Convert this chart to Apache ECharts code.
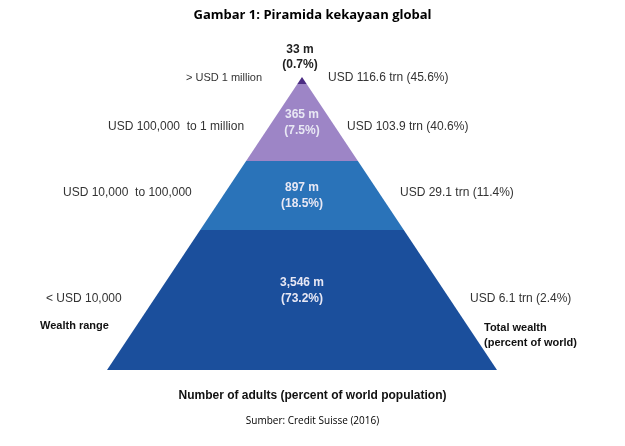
<!DOCTYPE html><html><head><meta charset="utf-8"><script src="https://cdn.jsdelivr.net/npm/echarts@6/dist/echarts.min.js"></script>
<style>html,body{margin:0;background:#fff}#c{width:625px;height:446px}</style></head><body><div id="c"></div><script>
const levels=['< USD 10,000','USD 10,000  to 100,000','USD 100,000  to 1 million','> USD 1 million'];
const adults=['3,546 m','897 m','365 m','33 m'];
const adultPct=['(73.2%)','(18.5%)','(7.5%)','(0.7%)'];
const wealth=['USD 6.1 trn (2.4%)','USD 29.1 trn (11.4%)','USD 103.9 trn (40.6%)','USD 116.6 trn (45.6%)'];
const bounds=[0,140,209,286,293];
const colors=['#1b4f9c','#2a73b9','#9d85c6','#4b2c83'];
const TOP=293,HALF=195;
const hw=h=>HALF*(TOP-h)/TOP;
const data=levels.map((l,i)=>[i,bounds[i],bounds[i+1]]);
const chart=echarts.init(document.getElementById('c'));
const F='Liberation Sans, Arial, sans-serif';
const T=(x,y,t,o={})=>({type:'text',left:x,top:y,style:Object.assign({text:t,font:'12px '+F,fill:'#333'},o)});
chart.setOption({
grid:{left:107,top:77,width:390,height:293},
xAxis:{type:'value',min:-HALF,max:HALF,show:false},
yAxis:{type:'value',min:0,max:TOP,show:false},
series:[{type:'custom',data:data,renderItem:(p,api)=>{
 const i=api.value(0),a=api.value(1),b=api.value(2);
 const pts=[[-hw(a),a],[hw(a),a],[hw(b),b],[-hw(b),b]].map(q=>api.coord(q));
 const ch=[{type:'polygon',shape:{points:pts},style:{fill:colors[i]}}];
 if(i<3){const c=api.coord([0,(a+b)/2]);
  ch.push({type:'text',x:c[0],y:c[1]+(i==0?-9:0),style:{text:adults[i]+'\n'+adultPct[i],fill:'#e8e8f4',font:'bold 12px '+F,align:'center',verticalAlign:'middle',lineHeight:16}});}
 return {type:'group',children:ch};
}}],
graphic:[
 {type:'text',left:'center',top:9,style:{text:'Gambar 1: Piramida kekayaan global',font:'bold 13px "Open Sans", sans-serif',fill:'#000'}},
 {type:'text',x:300,y:42,style:{text:adults[3]+'\n'+adultPct[3],font:'bold 12px '+F,fill:'#222',align:'center',lineHeight:15}},
 T(186,72,levels[3],{font:'11px '+F}),T(108,121,levels[2]),T(63,187,levels[1]),T(46,293,levels[0]),
 T(328,72,wealth[3]),T(347,121,wealth[2]),T(400,187,wealth[1]),T(470,293,wealth[0]),
 T(40,320,'Wealth range',{font:'bold 11px '+F,fill:'#111'}),
 T(484,320,'Total wealth\n(percent of world)',{font:'bold 11px '+F,fill:'#111',lineHeight:15}),
 {type:'text',left:'center',top:390,style:{text:'Number of adults (percent of world population)',font:'bold 12px '+F,fill:'#111'}},
 {type:'text',left:'center',top:416,style:{text:'Sumber: Credit Suisse (2016)',font:'10px "Open Sans", sans-serif',fill:'#000'}}
]});
</script></body></html>
